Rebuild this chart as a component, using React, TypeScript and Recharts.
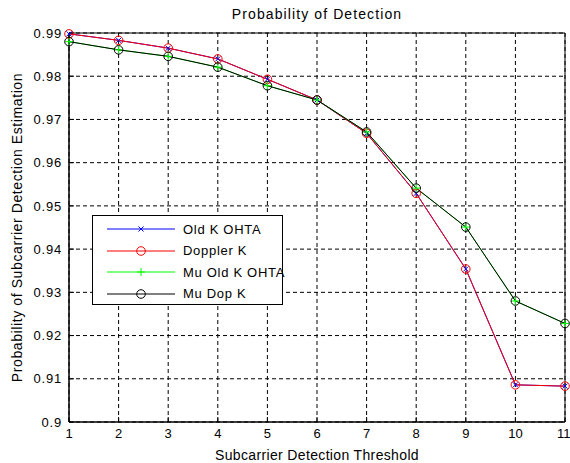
import React from "react";
import { LineChart, Line, XAxis, YAxis, CartesianGrid, ReferenceArea } from "recharts";

const thresholds = [1, 2, 3, 4, 5, 6, 7, 8, 9, 10, 11];
const oldKOhta = [0.9898, 0.9883, 0.9865, 0.984, 0.9793, 0.9745, 0.9668, 0.9529, 0.9354, 0.9086, 0.9083];
const dopplerK = [0.9898, 0.9883, 0.9865, 0.984, 0.9793, 0.9745, 0.9668, 0.9529, 0.9354, 0.9086, 0.9083];
const muOldKOhta = [0.988, 0.9861, 0.9846, 0.9821, 0.9778, 0.9745, 0.9671, 0.9541, 0.9451, 0.928, 0.9228];
const muDopK = [0.988, 0.9861, 0.9846, 0.9821, 0.9778, 0.9745, 0.9671, 0.9541, 0.9451, 0.928, 0.9228];
const yTicks = [0.9, 0.91, 0.92, 0.93, 0.94, 0.95, 0.96, 0.97, 0.98, 0.99];
const seriesNames = ["Old K OHTA", "Doppler K", "Mu Old K OHTA", "Mu Dop K"];
const seriesColors = ["#0000ff", "#ff0000", "#00ff00", "#000000"];
const seriesMarkers = ["x", "o", "+", "o"];

const data = thresholds.map((t, i) => ({
  t,
  oldK: oldKOhta[i],
  doppler: dopplerK[i],
  muOld: muOldKOhta[i],
  muDop: muDopK[i],
}));

const FONT = "'Liberation Sans', Arial, sans-serif";

function Marker({ cx, cy, shape, color }: { cx: number; cy: number; shape: string; color: string }) {
  if (shape === "x") {
    const s = 2.5;
    return (
      <g stroke={color} strokeWidth={1}>
        <line x1={cx - s} y1={cy - s} x2={cx + s} y2={cy + s} />
        <line x1={cx - s} y1={cy + s} x2={cx + s} y2={cy - s} />
      </g>
    );
  }
  if (shape === "+") {
    const s = 4;
    return (
      <g stroke={color} strokeWidth={1}>
        <line x1={cx - s} y1={cy} x2={cx + s} y2={cy} />
        <line x1={cx} y1={cy - s} x2={cx} y2={cy + s} />
      </g>
    );
  }
  return <circle cx={cx} cy={cy} r={4.3} fill="none" stroke={color} strokeWidth={1} />;
}

const makeDot = (idx: number) => (props: any) => (
  <Marker key={`${idx}-${props.index}`} cx={props.cx} cy={props.cy} shape={seriesMarkers[idx]} color={seriesColors[idx]} />
);

function LegendBox() {
  return (
    <div
      style={{
        position: "absolute",
        left: 92,
        top: 215,
        width: 191,
        height: 90,
        border: "1px solid #000",
        background: "#fff",
        fontFamily: FONT,
        fontSize: 13,
        letterSpacing: 0.7,
        boxSizing: "border-box",
      }}
    >
      {seriesNames.map((name, i) => (
        <div key={name} style={{ position: "absolute", left: 0, top: 5 + i * 21.5, height: 16, display: "flex", alignItems: "center" }}>
          <svg width={90} height={16} style={{ display: "block" }}>
            <line x1={14} y1={8} x2={82} y2={8} stroke={seriesColors[i]} strokeWidth={1.2} />
            <Marker cx={48} cy={8} shape={seriesMarkers[i]} color={seriesColors[i]} />
          </svg>
          <span style={{ color: "#000", whiteSpace: "nowrap" }}>{name}</span>
        </div>
      ))}
    </div>
  );
}

export default function App() {
  return (
    <div style={{ position: "absolute", left: 0, top: 0, width: 570, height: 463, background: "#fff" }}>
      <div
        style={{
          position: "absolute",
          left: 69,
          width: 496,
          top: 6,
          textAlign: "center",
          fontFamily: FONT,
          fontSize: 14,
          letterSpacing: 1.1,
          color: "#000",
        }}
      >
        Probability of Detection
      </div>
      <LineChart width={570} height={463} data={data} margin={{ top: 33, right: 5, bottom: 3, left: 29 }}>
        <CartesianGrid stroke="#000" strokeDasharray="4 3" strokeWidth={1} />
        <XAxis
          dataKey="t"
          type="number"
          domain={[1, 11]}
          ticks={thresholds}
          height={38}
          tickSize={-5}
          tickMargin={12}
          stroke="#000"
          tick={{ fill: "#000", fontSize: 13, fontFamily: FONT }}
          label={{
            value: "Subcarrier Detection Threshold",
            position: "insideBottom",
            offset: 0,
            fill: "#000",
            fontSize: 14,
            fontFamily: FONT,
            style: { letterSpacing: 0.35 },
          }}
        />
        <YAxis
          type="number"
          domain={[0.9, 0.99]}
          ticks={yTicks}
          width={40}
          tickSize={-5}
          tickMargin={12}
          stroke="#000"
          tickFormatter={(v: number) => String(Number(v.toFixed(2)))}
          tick={{ fill: "#000", fontSize: 13, fontFamily: FONT, style: { letterSpacing: 0.8 } }}
          label={{
            content: (p: any) => {
              const vb = p.viewBox;
              const cy = vb.y + vb.height / 2;
              return (
                <text
                  x={18}
                  y={cy}
                  transform={`rotate(-90 18 ${cy})`}
                  textAnchor="middle"
                  dominantBaseline="middle"
                  fill="#000"
                  fontSize={14}
                  fontFamily={FONT}
                  style={{ letterSpacing: 0.6 }}
                >
                  Probability of Subcarrier Detection Estimation
                </text>
              );
            },
          }}
        />
        <ReferenceArea x1={1} x2={11} y1={0.9} y2={0.99} fill="none" stroke="#000" strokeWidth={1} ifOverflow="visible" />
        <Line dataKey="oldK" stroke={seriesColors[0]} strokeWidth={1} dot={makeDot(0)} isAnimationActive={false} />
        <Line dataKey="doppler" stroke={seriesColors[1]} strokeWidth={1} dot={makeDot(1)} isAnimationActive={false} />
        <Line dataKey="muOld" stroke={seriesColors[2]} strokeWidth={1} dot={makeDot(2)} isAnimationActive={false} />
        <Line dataKey="muDop" stroke={seriesColors[3]} strokeWidth={1} dot={makeDot(3)} isAnimationActive={false} />
      </LineChart>
      <LegendBox />
    </div>
  );
}
